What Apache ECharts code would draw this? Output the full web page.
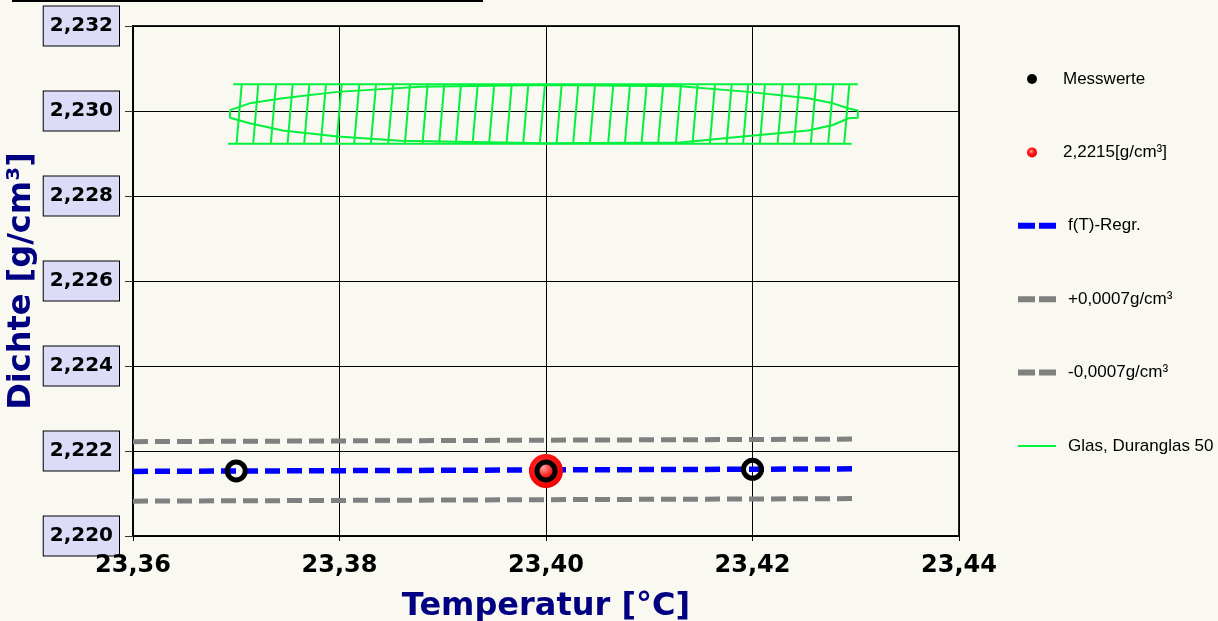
<!DOCTYPE html>
<html>
<head>
<meta charset="utf-8">
<script src="https://cdn.jsdelivr.net/npm/echarts@6/dist/echarts.min.js"></script>
<style>
  html, body { margin: 0; padding: 0; background: #f9f8f1; }
  #chart { width: 1218px; height: 621px; }
</style>
</head>
<body>
<div id="chart"></div>
<script>
// Dichte über Temperatur, Messwerte + Regression + Glas-Referenz

const xTickLabels = ['23,36', '23,38', '23,40', '23,42', '23,44'];
const yTickLabels = ['2,220', '2,222', '2,224', '2,226', '2,228', '2,230', '2,232'];

// Messwerte
const messTemp = [23.37, 23.40, 23.42];
const messDichte = [2.22153, 2.22153, 2.22157];

// Mittelwert 2,2215 g/cm³
const refTemp = [23.40];
const refDichte = [2.22153];

// Regression und Toleranz ±0,0007
const regrTemp = [23.36, 23.43];
const regrDichte = [2.22152, 2.22158];
const plusDichte = [2.22222, 2.22228];
const minusDichte = [2.22082, 2.22088];

// Glas, Duranglas 50 (Linse + Band mit Schraffur)
const glasUpperTemp = [23.3694, 23.3713, 23.3745, 23.3798, 23.3878, 23.3999, 23.4130, 23.4196, 23.4254, 23.4278, 23.4293, 23.4302];
const glasUpperDichte = [2.23002, 2.23018, 2.23030, 2.23045, 2.23057, 2.23061, 2.23058, 2.23045, 2.23030, 2.23018, 2.23006, 2.23001];
const glasLowerTemp = [23.3694, 23.3713, 23.3745, 23.3798, 23.3859, 23.3999, 23.4130, 23.4196, 23.4254, 23.4278, 23.4293, 23.4302];
const glasLowerDichte = [2.22984, 2.22971, 2.22954, 2.22940, 2.22930, 2.22924, 2.22926, 2.22941, 2.22954, 2.22967, 2.22983, 2.22984];
const glasBandTopTemp = [23.3697, 23.4302];
const glasBandBottomTemp = [23.3692, 23.4296];
const glasBandTop = 2.23063;
const glasBandBottom = 2.22923;
const glasHatchTemp = [
  23.37053, 23.37214, 23.37385, 23.37547, 23.37708, 23.37869, 23.38021, 23.38192,
  23.38354, 23.38521, 23.38683, 23.38854, 23.39015, 23.39177, 23.39339, 23.39499,
  23.39668, 23.39829, 23.39990, 23.40152, 23.40313, 23.40475, 23.40652, 23.40814,
  23.40975, 23.41136, 23.41308, 23.41469, 23.41637, 23.41799, 23.41959, 23.42121,
  23.42293, 23.42453, 23.42615, 23.42783, 23.42938
];
const glasHatchTilt = 0.0005;

const GREEN = '#00f23c';
const GLAS = 'Glas, Duranglas 50';

const pairs = (xs, ys) => xs.map((x, i) => [x, ys[i]]);

const lens = pairs(glasUpperTemp, glasUpperDichte)
  .concat(pairs(glasLowerTemp, glasLowerDichte).reverse());
lens.push([glasUpperTemp[0], glasUpperDichte[0]]);

const redBall = new echarts.graphic.RadialGradient(0.42, 0.4, 0.6, [
  { offset: 0, color: '#ffa0a0' },
  { offset: 0.45, color: '#ff1a1a' },
  { offset: 1, color: '#ee0000' }
]);

// Legende: jeder Eintrag eigene Komponente, damit die Symbole passen
const DASH_ICON = 'path://M0,0h17v6h-17zM21,0h17v6h-17z';
const legendText = {
  fontFamily: '"Liberation Sans", Arial, sans-serif',
  fontSize: 17,
  lineHeight: 20,
  color: '#000',
  padding: [0, 0, 0, 7]
};
const legendItems = [
  { name: 'Messwerte', icon: 'circle', h: 10, dx: 9, itemStyle: { color: '#000', borderWidth: 0, opacity: 1 } },
  { name: '2,2215[g/cm³]', icon: 'circle', h: 10, dx: 9, itemStyle: { color: redBall, borderWidth: 0, opacity: 1 } },
  { name: 'f(T)-Regr.', icon: DASH_ICON, h: 6, dx: 0 },
  { name: '+0,0007g/cm³', icon: DASH_ICON, h: 6, dx: 0 },
  { name: '-0,0007g/cm³', icon: DASH_ICON, h: 6, dx: 0 },
  { name: GLAS, icon: 'rect', h: 2, dx: 0 }
];
const legends = legendItems.map((it, i) => ({
  orient: 'vertical',
  left: 1013 + it.dx,
  top: 64 + i * 73.4,
  itemWidth: 38,
  itemHeight: it.h,
  selectedMode: false,
  textStyle: legendText,
  data: [{ name: it.name, icon: it.icon, itemStyle: it.itemStyle }]
}));

const chart = echarts.init(document.getElementById('chart'));

const option = {
  backgroundColor: '#f9f8f1',
  animation: false,
  graphic: [{
    type: 'line',
    shape: { x1: 12, y1: 1, x2: 483, y2: 1 },
    style: { stroke: '#000', lineWidth: 2 }
  }],
  grid: {
    left: 133, right: 259, top: 26, bottom: 85,
    containLabel: false,
    outerBoundsMode: 'none',
    show: true, borderColor: '#222', borderWidth: 2, backgroundColor: 'transparent'
  },
  legend: legends,
  xAxis: {
    type: 'value',
    min: 23.36,
    max: 23.44,
    interval: 0.02,
    name: 'Temperatur [°C]',
    nameLocation: 'middle',
    nameGap: 55,
    nameMoveOverlap: false,
    nameTextStyle: { color: '#000080', fontFamily: 'DejaVu Sans', fontWeight: 'bold', fontSize: 32 },
    axisLine: { show: true, lineStyle: { color: '#000', width: 1.7 } },
    axisTick: { show: true, length: 5, lineStyle: { color: '#000', width: 1 } },
    axisLabel: {
      margin: 18,
      color: '#000',
      fontFamily: 'DejaVu Sans',
      fontWeight: 'bold',
      fontSize: 24,
      formatter: v => xTickLabels[Math.round((v - 23.36) / 0.02)]
    },
    splitLine: { show: true, lineStyle: { color: '#000', width: 1 } }
  },
  yAxis: {
    type: 'value',
    min: 2.220,
    max: 2.232,
    interval: 0.002,
    name: 'Dichte [g/cm³]',
    nameLocation: 'middle',
    nameGap: 95,
    nameMoveOverlap: false,
    nameTextStyle: { color: '#000080', fontFamily: 'DejaVu Sans', fontWeight: 'bold', fontSize: 32 },
    axisLine: { show: true, lineStyle: { color: '#000', width: 1.7 } },
    axisTick: { show: true, length: 8, lineStyle: { color: '#333', width: 1 } },
    axisLabel: {
      margin: 14,
      color: '#000',
      fontFamily: 'DejaVu Sans',
      fontWeight: 'bold',
      fontSize: 20,
      lineHeight: 23,
      padding: [8, 6, 8, 6],
      backgroundColor: '#dcdcf8',
      borderColor: '#000',
      borderWidth: 1,
      formatter: v => yTickLabels[Math.round((v - 2.220) / 0.002)]
    },
    splitLine: { show: true, lineStyle: { color: '#000', width: 1 } }
  },
  series: [
    {
      name: 'f(T)-Regr.',
      type: 'line',
      data: pairs(regrTemp, regrDichte),
      symbol: 'none',
      z: 3,
      lineStyle: { color: '#0000ff', width: 5.5, type: [15, 7], cap: 'butt' },
      itemStyle: { color: '#0000ff' }
    },
    {
      name: '+0,0007g/cm³',
      type: 'line',
      data: pairs(regrTemp, plusDichte),
      symbol: 'none',
      z: 3,
      lineStyle: { color: '#808080', width: 5, type: [15, 7], cap: 'butt' },
      itemStyle: { color: '#808080' }
    },
    {
      name: '-0,0007g/cm³',
      type: 'line',
      data: pairs(regrTemp, minusDichte),
      symbol: 'none',
      z: 3,
      lineStyle: { color: '#808080', width: 5, type: [15, 7], cap: 'butt' },
      itemStyle: { color: '#808080' }
    },
    {
      name: GLAS,
      type: 'line',
      data: lens,
      symbol: 'none',
      z: 3,
      lineStyle: { color: GREEN, width: 2 },
      itemStyle: { color: GREEN }
    },
    {
      name: GLAS,
      type: 'line',
      data: glasBandTopTemp.map(x => [x, glasBandTop]),
      symbol: 'none',
      z: 3,
      lineStyle: { color: GREEN, width: 2 }
    },
    {
      name: GLAS,
      type: 'line',
      data: glasBandBottomTemp.map(x => [x, glasBandBottom]),
      symbol: 'none',
      z: 3,
      lineStyle: { color: GREEN, width: 2 }
    },
    {
      name: GLAS,
      type: 'custom',
      z: 3,
      data: glasHatchTemp.map(x => [x - glasHatchTilt, glasBandBottom, x, glasBandTop]),
      renderItem: (params, api) => {
        const p1 = api.coord([api.value(0), api.value(1)]);
        const p2 = api.coord([api.value(2), api.value(3)]);
        return {
          type: 'line',
          shape: { x1: p1[0], y1: p1[1], x2: p2[0], y2: p2[1] },
          style: { stroke: GREEN, lineWidth: 2 }
        };
      }
    },
    {
      name: '2,2215[g/cm³]',
      type: 'scatter',
      data: pairs(refTemp, refDichte),
      symbol: 'circle',
      symbolSize: 34,
      z: 5,
      itemStyle: { color: redBall, opacity: 1 }
    },
    {
      name: 'Messwerte',
      type: 'scatter',
      data: pairs(messTemp, messDichte),
      symbol: 'circle',
      symbolSize: 18,
      z: 6,
      itemStyle: { color: 'rgba(0,0,0,0)', borderColor: '#000', borderWidth: 5, opacity: 1 }
    }
  ]
};

chart.setOption(option);
</script>
</body>
</html>
